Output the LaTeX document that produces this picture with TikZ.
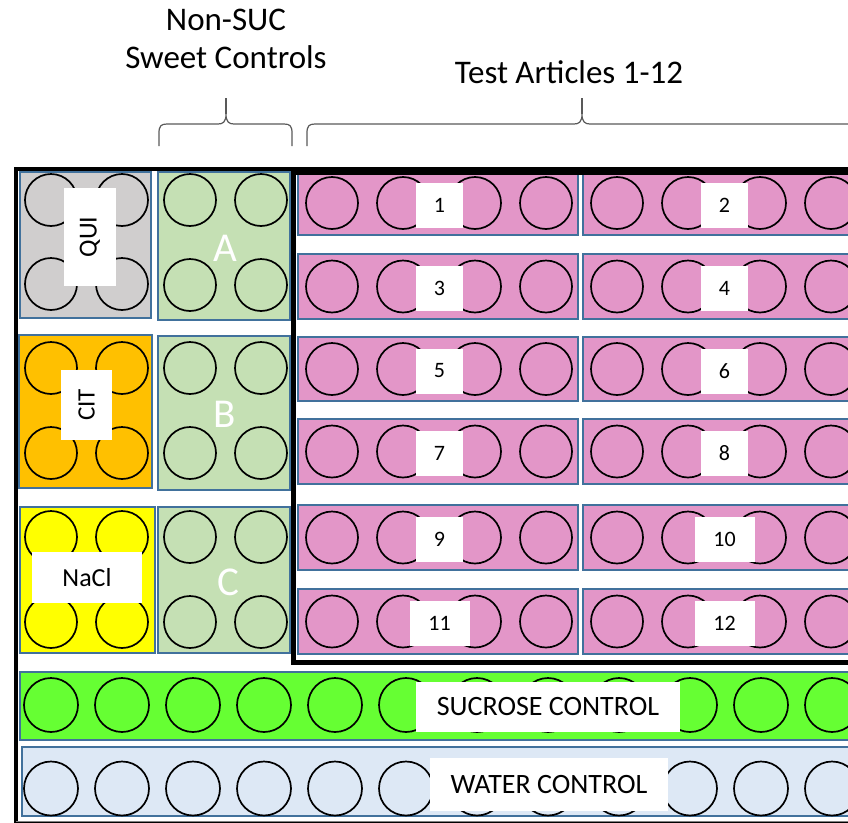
\documentclass[tikz,border=0pt]{standalone}
\usepackage{fontspec}
\setmainfont{Carlito}
\definecolor{boxblue}{HTML}{41719C}
\definecolor{quigray}{HTML}{D0CECE}
\definecolor{sweetgreen}{HTML}{C5E0B4}
\definecolor{citorange}{HTML}{FFC000}
\definecolor{naclyellow}{HTML}{FFFF00}
\definecolor{testpink}{HTML}{E396C8}
\definecolor{sucgreen}{HTML}{66FF33}
\definecolor{waterblue}{HTML}{DDE8F5}
\definecolor{bracegray}{HTML}{595959}
\begin{document}
\begin{tikzpicture}[x=1pt,y=-1pt,
  well/.style={draw=black, line width=1.7pt},
  boxline/.style={draw=boxblue, line width=1.3pt},
  lab/.style={fill=white, inner sep=0pt, text=black},
  numlab/.style={lab, minimum height=45pt, font=\fontsize{22}{24}\selectfont},
  bracel/.style={draw=bracegray, line width=1.2pt},
  frame/.style={draw=black}
]
\useasboundingbox (0,0) rectangle (848,822);
\clip (0,0) rectangle (848,822);

% control squares
\filldraw[boxline, fill=quigray] (20,172) rectangle (151,318);
\filldraw[boxline, fill=sweetgreen] (158,172) rectangle (290,320);
\filldraw[boxline, fill=citorange] (19,335) rectangle (152,488);
\filldraw[boxline, fill=sweetgreen] (158,336) rectangle (290,490);
\filldraw[boxline, fill=naclyellow] (20,507) rectangle (155,653);
\filldraw[boxline, fill=sweetgreen] (158,507) rectangle (290,653);

\foreach \cx in {51,122}{
  \foreach \cy in {200,284,368,453,537,622}{
    \draw[well] (\cx,\cy) circle[radius=26pt];
  }
}
\foreach \cx in {190,261}{
  \foreach \cy in {200,285,368,453,537,622}{
    \draw[well] (\cx,\cy) circle[radius=26pt];
  }
}

\node[lab, rotate=90, minimum width=98pt, minimum height=52pt, font=\fontsize{26}{28}\selectfont] (qui) at (90,237) {QUI};
\node[lab, rotate=90, minimum width=70pt, minimum height=51pt, font=\fontsize{25}{27}\selectfont] (cit) at (86.5,405) {CIT};
\node[lab, minimum width=110pt, minimum height=51pt, font=\fontsize{26}{28}\selectfont] (nacl) at (87,577.5) {NaCl};
\node[text=white, font=\fontsize{41}{44}\selectfont, inner sep=0pt] (labA) at (225,248) {A};
\node[text=white, font=\fontsize{41}{44}\selectfont, inner sep=0pt] (labB) at (225,414) {B};
\node[text=white, font=\fontsize{41}{44}\selectfont, inner sep=0pt] (labC) at (228,582) {C};

% test article rows
\foreach \top/\bot/\ll/\rl [count=\i] in {171/235/1/2, 254/319/3/4, 337/401/5/6, 419/484/7/8, 505/570/9/10, 589/654/11/12}{
  \filldraw[boxline, fill=testpink] (298,\top) rectangle (578,\bot);
  \filldraw[boxline, fill=testpink] (583,\top) rectangle (866,\bot);
  \pgfmathsetmacro{\cy}{(\top+\bot)/2}
  \foreach \cx in {332,403,475,546,617,688,760,831}{
    \draw[well] (\cx,\cy) circle[radius=26pt];
  }
  \pgfmathsetmacro{\ly}{\cy+2}
  \pgfmathsetmacro{\lwA}{\ll>9 ? 60 : 47}
  \pgfmathsetmacro{\lwB}{\rl>9 ? 60 : 47}
  \node[numlab, minimum width=\lwA pt] (ta\ll) at (439.5,\ly) {\ll};
  \node[numlab, minimum width=\lwB pt] (ta\rl) at (724.5,\ly) {\rl};
}

% sucrose and water bands
\filldraw[boxline, fill=sucgreen] (20,672) rectangle (870,740);
\filldraw[boxline, fill=waterblue] (22,747) rectangle (870,816);
\foreach \k in {0,...,11}{
  \draw[well] (51+71*\k,705) circle[radius=27pt];
  \draw[well] (51+71*\k,788.5) circle[radius=27pt];
}
\node[lab, minimum width=264pt, minimum height=50pt, font=\fontsize{28}{30}\selectfont] (suc) at (548,707) {SUCROSE CONTROL};
\node[lab, minimum width=238pt, minimum height=53pt, font=\fontsize{28}{30}\selectfont] (water) at (549,784.5) {WATER CONTROL};

% frames
\draw[frame, line width=4pt] (16,169) rectangle (900,824);
\draw[draw=gray, line width=1pt] (16,821.5) -- (848,821.5);
\draw[frame, line width=5pt] (293.5,172) rectangle (900,662);

% braces
\draw[bracel] (159,146) -- (159,133) .. controls (159,126) and (161,124) .. (167,124) -- (218,124)
  .. controls (223,124) and (226,122) .. (226,114)
  .. controls (226,122) and (229,124) .. (234,124) -- (284,124)
  .. controls (290,124) and (292,126) .. (292,133) -- (292,146);
\draw[bracel] (226,114) -- (226,98);
\draw[bracel] (307,146) -- (307,133) .. controls (307,126) and (309,124) .. (315,124) -- (574,124)
  .. controls (579,124) and (582,122) .. (582,114)
  .. controls (582,122) and (585,124) .. (590,124) -- (849,124)
  .. controls (855,124) and (857,126) .. (857,133) -- (857,146);
\draw[bracel] (582,114) -- (582,98);

% headings
\node[font=\fontsize{33}{38}\selectfont, inner sep=0pt, align=center] (nonsuc) at (226,39) {Non-SUC\\Sweet Controls};
\node[font=\fontsize{33}{38}\selectfont, inner sep=0pt] (testart) at (569,72) {Test Articles 1-12};
\end{tikzpicture}
\end{document}
